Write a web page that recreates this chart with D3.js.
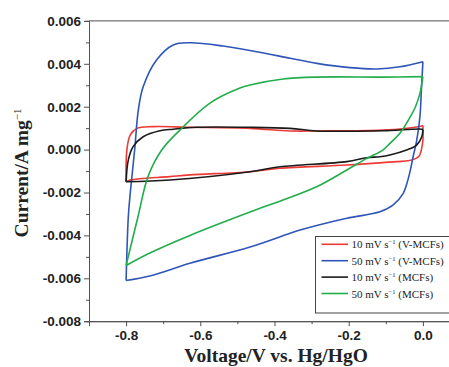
<!DOCTYPE html>
<meta charset="utf-8">
<style>
body { margin: 0; background: #fff; }
.axis path, .axis line { stroke: #505050; stroke-width: 1px; }
.axis text { font-family: "Liberation Sans", Arial, sans-serif; font-weight: bold; font-size: 13.5px; fill: #222; }
.curve { fill: none; stroke-width: 1.6px; stroke-linejoin: round; }
.title { font-family: "Liberation Serif", "Times New Roman", serif; font-weight: bold; font-size: 19.5px; fill: #222; }
.legend text { font-family: "Liberation Serif", "Times New Roman", serif; font-size: 11px; fill: #222; }
</style>
<body></body>
<script src="https://d3js.org/d3.v7.min.js"></script>
<script>

// [voltage (V), current (A/mg)] — anodic (up) and cathodic (down) sweeps
var redUp = [[-0.800,-0.00150],[-0.798,-0.00002],[-0.789,0.00068],[-0.771,0.00099],[-0.727,0.00107],
  [-0.628,0.00104],[-0.466,0.00099],[-0.358,0.00087],[-0.286,0.00087],[-0.108,0.00091],[-0.008,0.00108],[0.000,0.00112]];
var redDown = [[0.000,0.00112],[0.000,0.00045],[-0.004,0.00000],[-0.010,-0.00030],[-0.020,-0.00042],[-0.040,-0.00052],
  [-0.071,-0.00056],[-0.205,-0.00072],[-0.385,-0.00087],[-0.466,-0.00103],[-0.628,-0.00118],[-0.682,-0.00126],
  [-0.789,-0.00142],[-0.800,-0.00150]];

var blueUp = [[-0.800,-0.00610],[-0.794,-0.00313],[-0.788,-0.00188],[-0.777,-0.00002],[-0.767,0.00185],
  [-0.754,0.00293],[-0.718,0.00418],[-0.673,0.00488],[-0.628,0.00498],[-0.539,0.00483],[-0.448,0.00456],
  [-0.358,0.00426],[-0.286,0.00402],[-0.196,0.00382],[-0.124,0.00376],[-0.062,0.00386],[0.000,0.00410]];
var blueDown = [[0.000,0.00410],[-0.004,0.00280],[-0.008,0.00153],[-0.017,0.00040],[-0.026,-0.00030],
  [-0.035,-0.00105],[-0.045,-0.00168],[-0.053,-0.00204],[-0.080,-0.00258],[-0.116,-0.00290],[-0.205,-0.00320],
  [-0.331,-0.00375],[-0.358,-0.00390],[-0.466,-0.00454],[-0.628,-0.00530],[-0.736,-0.00589],[-0.800,-0.00610]];

var blackUp = [[-0.800,-0.00150],[-0.794,-0.00048],[-0.781,0.00014],[-0.754,0.00060],[-0.709,0.00088],
  [-0.673,0.00095],[-0.610,0.00104],[-0.466,0.00104],[-0.358,0.00099],[-0.286,0.00087],[-0.108,0.00088],
  [-0.003,0.00095],[0.000,0.00092]];
var blackDown = [[0.000,0.00092],[-0.003,0.00060],[-0.017,0.00021],[-0.044,-0.00002],[-0.089,-0.00025],
  [-0.116,-0.00033],[-0.151,-0.00038],[-0.205,-0.00056],[-0.385,-0.00080],[-0.466,-0.00103],[-0.682,-0.00142],
  [-0.800,-0.00150]];

var greenUp = [[-0.800,-0.00540],[-0.768,-0.00313],[-0.741,-0.00126],[-0.704,-0.00002],[-0.655,0.00091],
  [-0.574,0.00217],[-0.493,0.00287],[-0.466,0.00301],[-0.377,0.00329],[-0.285,0.00338],[-0.108,0.00338],[0.000,0.00340]];
var greenDown = [[0.000,0.00340],[-0.008,0.00262],[-0.020,0.00200],[-0.035,0.00150],[-0.062,0.00076],
  [-0.089,0.00029],[-0.108,-0.00002],[-0.151,-0.00041],[-0.205,-0.00095],[-0.285,-0.00172],[-0.377,-0.00235],
  [-0.466,-0.00291],[-0.628,-0.00400],[-0.736,-0.00482],[-0.800,-0.00540]];

var legendRates = ["10", "50", "10", "50"];
var legendNames = ["(V-MCFs)", "(V-MCFs)", "(MCFs)", "(MCFs)"];
var colors = ["#ee3a35", "#2f55b8", "#1a1a1a", "#22ad4c"];

var xMajor = [-0.8, -0.6, -0.4, -0.2, 0.0],
    xMinor = [-0.9, -0.7, -0.5, -0.3, -0.1, 0.1],
    yMajor = [-0.008, -0.006, -0.004, -0.002, 0.000, 0.002, 0.004, 0.006],
    yMinor = [-0.007, -0.005, -0.003, -0.001, 0.001, 0.003, 0.005];

var width = 449, height = 367;

var svg = d3.select("body").append("svg")
    .attr("width", width)
    .attr("height", height);

var x = d3.scaleLinear().domain([-0.9, 0.1]).range([89, 460]),
    y = d3.scaleLinear().domain([-0.008, 0.006]).range([321.2, 20.9]);

var fmt = function(f) { return function(d) { return d3.format(f)(d).replace("\u2212", "-"); }; };

// frame top
svg.append("line")
    .attr("x1", 89).attr("x2", width)
    .attr("y1", y(0.006)).attr("y2", y(0.006))
    .attr("stroke", "#505050");

svg.append("g").attr("class", "axis")
    .attr("transform", "translate(0," + y(-0.008) + ")")
    .call(d3.axisBottom(x).tickValues(xMinor).tickSize(3).tickFormat(""));
svg.append("g").attr("class", "axis")
    .attr("transform", "translate(0," + y(-0.008) + ")")
    .call(d3.axisBottom(x).tickValues(xMajor).tickSize(5).tickPadding(4).tickFormat(fmt(".1f")));

svg.append("g").attr("class", "axis")
    .attr("transform", "translate(" + x(-0.9) + ",0)")
    .call(d3.axisLeft(y).tickValues(yMinor).tickSize(3).tickFormat(""));
svg.append("g").attr("class", "axis")
    .attr("transform", "translate(" + x(-0.9) + ",0)")
    .call(d3.axisLeft(y).tickValues(yMajor).tickSize(5).tickPadding(3).tickFormat(fmt(".3f")));

var line = d3.line()
    .x(function(d) { return x(d[0]); })
    .y(function(d) { return y(d[1]); })
    .curve(d3.curveCatmullRom.alpha(0.5));

var branches = [[redUp, redDown], [blueUp, blueDown], [blackUp, blackDown], [greenUp, greenDown]];
branches.forEach(function(b, i) {
  b.forEach(function(pts) {
    svg.append("path")
        .attr("class", "curve")
        .attr("stroke", colors[i])
        .attr("d", line(pts));
  });
});

// axis titles
svg.append("text")
    .attr("class", "title")
    .attr("x", 276)
    .attr("y", 362)
    .attr("text-anchor", "middle")
    .text("Voltage/V vs. Hg/HgO");

var yt = svg.append("text")
    .attr("class", "title")
    .attr("text-anchor", "middle")
    .attr("transform", "translate(28,173) rotate(-90)");
yt.append("tspan").text("Current/A mg");
yt.append("tspan").attr("dy", -7).attr("font-size", "11px").attr("font-weight", "normal").text("\u22121");

// legend
var lg = svg.append("g").attr("class", "legend");
lg.append("rect")
    .attr("x", 315.5).attr("y", 236.5)
    .attr("width", 150).attr("height", 76.5)
    .attr("fill", "#fff")
    .attr("stroke", "#444");

legendRates.forEach(function(r, i) {
  var cy = 244.3 + i * 16.4;
  lg.append("line")
      .attr("x1", 321.5).attr("x2", 348)
      .attr("y1", cy).attr("y2", cy)
      .attr("stroke", colors[i])
      .attr("stroke-width", 1.6);
  var t = lg.append("text").attr("x", 351.5).attr("y", cy + 4);
  t.append("tspan").text(r + " mV s");
  t.append("tspan").attr("dy", -4).attr("font-size", "6.5px").text("\u22121");
  t.append("tspan").attr("dy", 4).text(" " + legendNames[i]);
});

</script>
